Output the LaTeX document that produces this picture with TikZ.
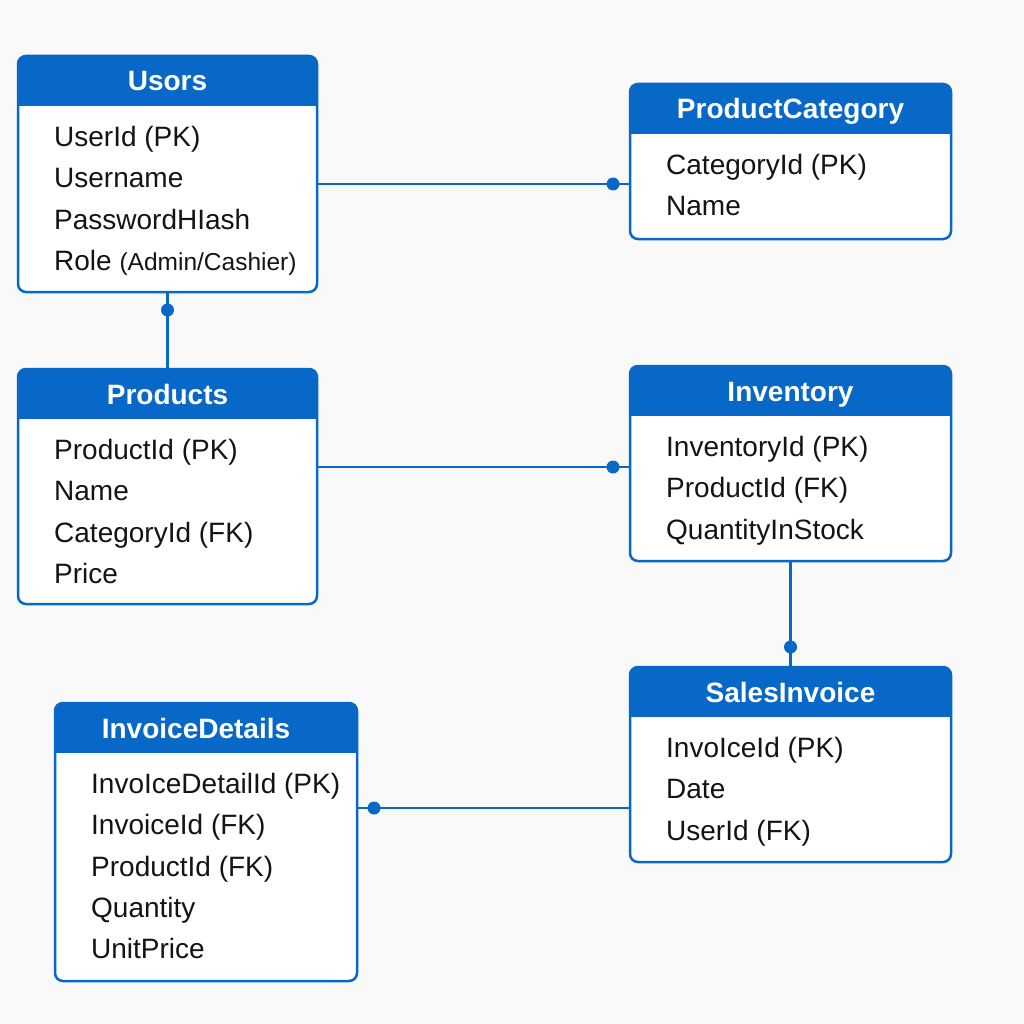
\documentclass[tikz,border=0pt]{standalone}
\usepackage{fontspec}
\setmainfont{Liberation Sans}
\usetikzlibrary{positioning}

\definecolor{erblue}{RGB}{8,104,200}
\definecolor{erbg}{RGB}{249,249,249}
\definecolor{ertext}{RGB}{20,20,20}

\tikzset{
  tbl/.style={draw=erblue, line width=2.5pt, fill=white, rounded corners=8pt,
    anchor=north west, inner sep=0pt, outer sep=0pt,
    path picture={\fill[erblue, sharp corners] (path picture bounding box.north west)
      rectangle ([yshift=-50pt]path picture bounding box.north east);}},
  head/.style={text=white, font=\bfseries\fontsize{28}{30}\selectfont,
    text height=20pt, text depth=0pt, inner sep=0pt},
  rows/.style={text=ertext, font=\fontsize{28}{41.3}\selectfont, align=left,
    anchor=north west, inner sep=0pt},
  link/.style={draw=erblue, line width=2.3pt},
  dot/.style={circle, fill=erblue, minimum size=13pt, inner sep=0pt}
}

\begin{document}
\begin{tikzpicture}[x=1pt, y=-1pt]
    % Page
    \fill[erbg] (0,0) rectangle (1024,1024);

    % Draw the tables
    \node[tbl, minimum width=299pt, minimum height=236pt] (users) at (18,56) {};
    \node[head] (users-h) at ([yshift=-25pt]users.north) {Usors};
    \node[rows] (users-r) at ([xshift=36pt,yshift=-70pt]users.north west)
      {UserId (PK)\\Username\\PasswordHIash\\Role {\fontsize{24.5}{41.3}\selectfont(Admin/Cashier)}};

    \node[tbl, minimum width=321pt, minimum height=155pt] (cat) at (630,84) {};
    \node[head] (cat-h) at ([yshift=-25pt]cat.north) {ProductCategory};
    \node[rows] (cat-r) at ([xshift=36pt,yshift=-70pt]cat.north west)
      {CategoryId (PK)\\Name};

    \node[tbl, minimum width=299pt, minimum height=235pt] (prods) at (18,369) {};
    \node[head] (prods-h) at ([yshift=-25pt]prods.north) {Products};
    \node[rows] (prods-r) at ([xshift=36pt,yshift=-70pt]prods.north west)
      {ProductId (PK)\\Name\\CategoryId (FK)\\Price};

    \node[tbl, minimum width=321pt, minimum height=195pt] (inv) at (630,366) {};
    \node[head] (inv-h) at ([yshift=-25pt]inv.north) {Inventory};
    \node[rows] (inv-r) at ([xshift=36pt,yshift=-70pt]inv.north west)
      {InventoryId (PK)\\ProductId (FK)\\QuantityInStock};

    \node[tbl, minimum width=321pt, minimum height=195pt] (sales) at (630,667) {};
    \node[head] (sales-h) at ([yshift=-25pt]sales.north) {SalesInvoice};
    \node[rows] (sales-r) at ([xshift=36pt,yshift=-70pt]sales.north west)
      {InvoIceId (PK)\\Date\\UserId (FK)};

    \node[tbl, minimum width=302pt, minimum height=278pt] (details) at (55,703) {};
    \node[head] (details-h) at ([xshift=-10pt,yshift=-25pt]details.north) {InvoiceDetails};
    \node[rows] (details-r) at ([xshift=36pt,yshift=-70pt]details.north west)
      {InvoIceDetailId (PK)\\InvoiceId (FK)\\ProductId (FK)\\Quantity\\UnitPrice};

    % Draw the relations
    \draw[link] (users.east |- 0,184) -- (cat.west |- 0,184) node[dot, xshift=-17pt] (d1) {};
    \draw[link] (users.south) node[dot, yshift=-18pt] (d2) {} -- (prods.north);
    \draw[link] (prods.east |- 0,467) -- (inv.west |- 0,467) node[dot, xshift=-17pt] (d3) {};
    \draw[link] (inv.south) -- (sales.north) node[dot, yshift=20pt] (d4) {};
    \draw[link] (sales.west |- 0,808) -- (details.east |- 0,808) node[dot, xshift=17pt] (d5) {};
\end{tikzpicture}
\end{document}
